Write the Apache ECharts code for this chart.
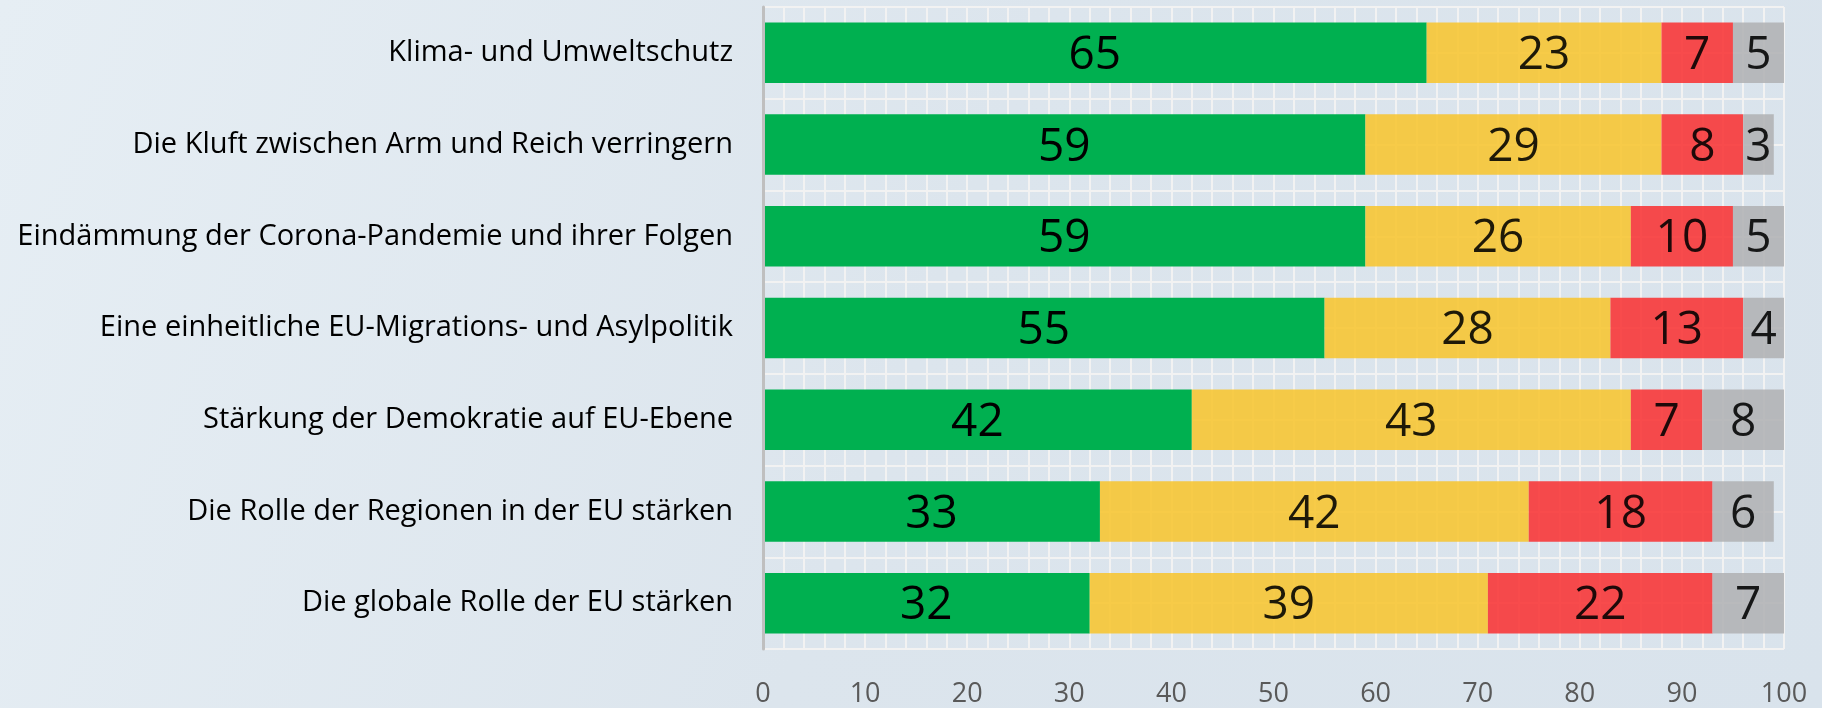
<!DOCTYPE html>
<html>
<head>
<meta charset="utf-8">
<script src="https://cdn.jsdelivr.net/npm/echarts@6/dist/echarts.min.js"></script>
<style>
  html, body { margin: 0; padding: 0; }
  #main { width: 1822px; height: 708px; }
</style>
</head>
<body>
<div id="main"></div>
<script>
var categories = [
    'Klima- und Umweltschutz',
    'Die Kluft zwischen Arm und Reich verringern',
    'Eindämmung der Corona-Pandemie und ihrer Folgen',
    'Eine einheitliche EU-Migrations- und Asylpolitik',
    'Stärkung der Demokratie auf EU-Ebene',
    'Die Rolle der Regionen in der EU stärken',
    'Die globale Rolle der EU stärken'
];
var greenVals = [65, 59, 59, 55, 42, 33, 32];
var yellowVals = [23, 29, 26, 28, 43, 42, 39];
var redVals = [7, 8, 10, 13, 7, 18, 22];
var grayVals = [5, 3, 5, 4, 8, 6, 7];
var xTicks = [0, 10, 20, 30, 40, 50, 60, 70, 80, 90, 100];

var chart = echarts.init(document.getElementById('main'));

function seg(vals, color, opacity) {
    return {
        type: 'bar',
        stack: 'all',
        yAxisIndex: 0,
        barCategoryGap: '34%',
        data: vals,
        itemStyle: { color: color, opacity: opacity },
        label: {
            show: true,
            position: 'inside',
            offset: [0, 3],
            color: '#000',
            fontFamily: 'Open Sans',
            fontSize: 46
        }
    };
}

var option = {
    backgroundColor: new echarts.graphic.LinearGradient(0, 0, 1, 1, [
        { offset: 0, color: '#e6eef4' },
        { offset: 0.5, color: '#dce5ed' },
        { offset: 1, color: '#d9e3ec' }
    ]),
    animation: false,
    grid: { left: 763, right: 38, top: 7, bottom: 57 },
    xAxis: {
        type: 'value',
        min: xTicks[0],
        max: xTicks[xTicks.length - 1],
        interval: 10,
        axisLine: { show: false },
        axisTick: { show: false },
        axisLabel: {
            margin: 32,
            color: '#595959',
            fontFamily: 'Open Sans',
            fontSize: 27
        },
        splitLine: { show: true, lineStyle: { color: '#f2f2f2', width: 2 } },
        minorTick: { show: false, splitNumber: 5 },
        minorSplitLine: { show: true, lineStyle: { color: '#f2f2f2', width: 2 } }
    },
    yAxis: [{
        type: 'category',
        inverse: true,
        data: categories,
        axisLine: { show: true, lineStyle: { color: '#bfbfbf', width: 3 } },
        axisTick: { show: false },
        axisLabel: {
            margin: 30,
            color: '#000',
            fontFamily: 'Open Sans',
            fontSize: 29
        },
        splitLine: { show: false },
        z: 5
    }, {
        type: 'value',
        min: 0,
        max: 14,
        interval: 1,
        position: 'right',
        axisLine: { show: false },
        axisTick: { show: false },
        axisLabel: { show: false },
        splitLine: { show: true, lineStyle: { color: '#f2f2f2', width: 2 } }
    }],
    series: [
        seg(greenVals, '#00b050', 1),
        seg(yellowVals, '#f7c530', 0.88),
        seg(redVals, '#f83334', 0.88),
        seg(grayVals, '#b0b2b4', 0.88)
    ]
};
chart.setOption(option);
</script>
</body>
</html>
